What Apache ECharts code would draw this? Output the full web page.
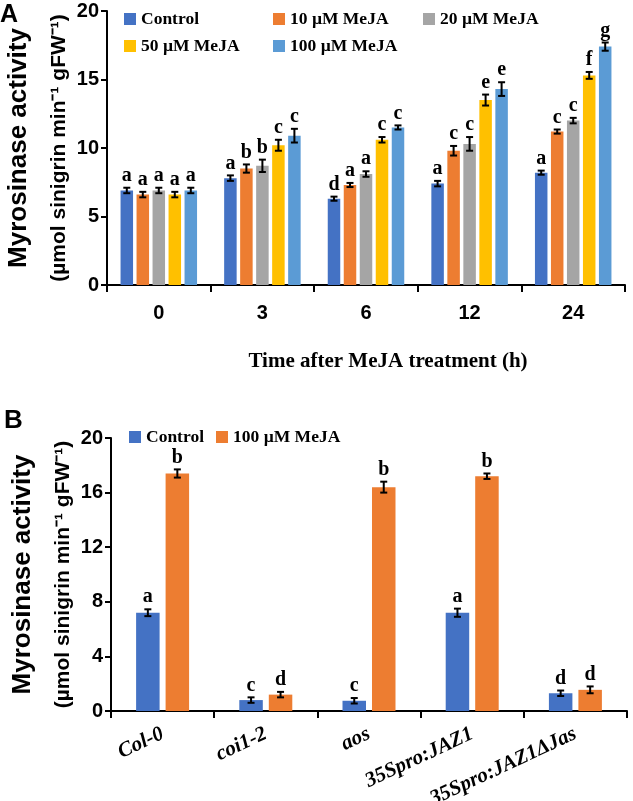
<!DOCTYPE html>
<html><head><meta charset="utf-8">
<script src="https://cdn.jsdelivr.net/npm/echarts@6/dist/echarts.min.js"></script>
<style>html,body{margin:0;padding:0;background:#fff}#c{width:633px;height:801px}</style>
</head><body><div id="c"></div>
<script>
// ---------- Panel A data ----------
const timeCategories = ['0', '3', '6', '12', '24'];
const seriesNamesA = ['Control', '10 µM MeJA', '20 µM MeJA', '50 µM MeJA', '100 µM MeJA'];
const controlA  = [6.9, 7.8, 6.3, 7.4, 8.2];
const meja10A   = [6.6, 8.5, 7.3, 9.8, 11.2];
const meja20A   = [6.9, 8.7, 8.1, 10.3, 12.0];
const meja50A   = [6.6, 10.2, 10.6, 13.5, 15.3];
const meja100A  = [6.9, 10.9, 11.5, 14.3, 17.4];
const controlAErr = [0.2, 0.2, 0.15, 0.2, 0.15];
const meja10AErr  = [0.2, 0.3, 0.15, 0.35, 0.15];
const meja20AErr  = [0.2, 0.45, 0.2, 0.5, 0.2];
const meja50AErr  = [0.2, 0.4, 0.2, 0.4, 0.25];
const meja100AErr = [0.2, 0.5, 0.15, 0.5, 0.3];
const controlALetters = ['a', 'a', 'd', 'a', 'a'];
const meja10ALetters  = ['a', 'b', 'a', 'c', 'c'];
const meja20ALetters  = ['a', 'b', 'a', 'c', 'c'];
const meja50ALetters  = ['a', 'c', 'c', 'e', 'f'];
const meja100ALetters = ['a', 'c', 'c', 'e', 'g'];
const yTicksA = [0, 5, 10, 15, 20];

// ---------- Panel B data ----------
const genotypes = ['Col-0', 'coi1-2', 'aos', '35Spro:JAZ1', '35Spro:JAZ1ΔJas'];
const seriesNamesB = ['Control', '100 µM MeJA'];
const controlB = [7.2, 0.8, 0.75, 7.2, 1.3];
const mejaB    = [17.4, 1.2, 16.4, 17.2, 1.55];
const controlBErr = [0.25, 0.2, 0.2, 0.3, 0.2];
const mejaBErr    = [0.3, 0.2, 0.4, 0.2, 0.25];
const controlBLetters = ['a', 'c', 'c', 'a', 'd'];
const mejaBLetters    = ['b', 'd', 'b', 'b', 'd'];
const yTicksB = [0, 4, 8, 12, 16, 20];

// ---------- styling ----------
const colorsA = ['#4472C4', '#ED7D31', '#A5A5A5', '#FFC000', '#5B9BD5'];
const colorsB = ['#4472C4', '#ED7D31'];
const SANS = '"Liberation Sans", Arial, sans-serif';
const SERIF = '"Liberation Serif", "Times New Roman", serif';
const barWA = 12.5, gapA = 0.28;
const barWB = 23.5, gapB = 0.255;

function errRender(offset, errs, letters) {
  return function (params, api) {
    const i = params.dataIndex;
    const cat = api.value(0), v = api.value(1), e = errs[i];
    const c = api.coord([cat, v]);
    const x = c[0] + offset;
    const yt = api.coord([cat, v + e])[1];
    const yb = api.coord([cat, v - e])[1];
    const cap = 3.5;
    const st = { stroke: '#000', lineWidth: 2 };
    return {
      type: 'group', children: [
        { type: 'line', shape: { x1: x, y1: yt, x2: x, y2: yb }, style: st },
        { type: 'line', shape: { x1: x - cap, y1: yt, x2: x + cap, y2: yt }, style: st },
        { type: 'line', shape: { x1: x - cap, y1: yb, x2: x + cap, y2: yb }, style: st },
        { type: 'text', style: { x: x, y: yt - 2, text: letters[i], textAlign: 'center', textVerticalAlign: 'bottom',
            font: 'bold 20px ' + SERIF, fill: '#000' } }
      ]
    };
  };
}

const valsA = [controlA, meja10A, meja20A, meja50A, meja100A];
const errsA = [controlAErr, meja10AErr, meja20AErr, meja50AErr, meja100AErr];
const lettersA = [controlALetters, meja10ALetters, meja20ALetters, meja50ALetters, meja100ALetters];
const valsB = [controlB, mejaB];
const errsB = [controlBErr, mejaBErr];
const lettersB = [controlBLetters, mejaBLetters];

const series = [];
valsA.forEach((vals, k) => {
  series.push({ type: 'bar', name: seriesNamesA[k], xAxisIndex: 0, yAxisIndex: 0, data: vals,
    barWidth: barWA, barGap: (gapA * 100) + '%', itemStyle: { color: colorsA[k] }, silent: true });
});
valsA.forEach((vals, k) => {
  const off = (k - (valsA.length - 1) / 2) * barWA * (1 + gapA);
  series.push({ type: 'custom', xAxisIndex: 0, yAxisIndex: 0, z: 5, silent: true,
    data: vals.map((v, i) => [i, v]), encode: { x: 0, y: 1 },
    renderItem: errRender(off, errsA[k], lettersA[k]) });
});
valsB.forEach((vals, k) => {
  series.push({ type: 'bar', name: seriesNamesB[k], xAxisIndex: 1, yAxisIndex: 1, data: vals,
    barWidth: barWB, barGap: (gapB * 100) + '%', itemStyle: { color: colorsB[k] }, silent: true });
});
valsB.forEach((vals, k) => {
  const off = (k - (valsB.length - 1) / 2) * barWB * (1 + gapB);
  series.push({ type: 'custom', xAxisIndex: 1, yAxisIndex: 1, z: 5, silent: true,
    data: vals.map((v, i) => [i, v]), encode: { x: 0, y: 1 },
    renderItem: errRender(off, errsB[k], lettersB[k]) });
});

const axisLine = { show: true, lineStyle: { color: '#000', width: 2 } };
const yName = '{a|Myrosinase activity}\n{b|(µmol sinigrin min⁻¹ gFW⁻¹)}';
const yNameStyle = { rich: {
  a: { fontFamily: SANS, fontWeight: 'bold', fontSize: 26, lineHeight: 40, color: '#000' },
  b: { fontFamily: SANS, fontWeight: 'bold', fontSize: 21, lineHeight: 40, color: '#000' } } };

function yAxis(grid, ticks) {
  return { gridIndex: grid, type: 'value', min: ticks[0], max: ticks[ticks.length - 1],
    interval: ticks[1] - ticks[0],
    axisLine: axisLine, axisTick: { show: true, length: 6, lineStyle: { color: '#000', width: 2 } },
    splitLine: { show: false },
    axisLabel: { fontFamily: SANS, fontWeight: 'bold', fontSize: 20, color: '#000', margin: 8 },
    name: yName, nameLocation: 'middle', nameGap: 28, nameRotate: 90, nameMoveOverlap: false,
    nameTextStyle: yNameStyle };
}

const legendBase = { orient: 'horizontal', icon: 'rect', itemWidth: 12, itemHeight: 12, padding: 0,
  selectedMode: false, textStyle: { fontFamily: SERIF, fontWeight: 'bold', fontSize: 17.5, color: '#000' } };
const legA = [[124, 10], [273, 10], [423, 10], [124, 37], [273, 37]];
const legends = seriesNamesA.map((n, k) => Object.assign({}, legendBase,
  { data: [{ name: n, itemStyle: { color: colorsA[k] } }], left: legA[k][0], top: legA[k][1] }));
legends.push(Object.assign({}, legendBase, { left: 129, top: 428, itemGap: 12,
  data: seriesNamesB.map((n, k) => ({ name: n, itemStyle: { color: colorsB[k] } })) }));

const freeBounds = { left: -300, top: -300, right: -300, bottom: -300 };
const option = {
  animation: false,
  backgroundColor: '#fff',
  grid: [
    { left: 107, top: 11, width: 518, height: 274, containLabel: false, outerBounds: freeBounds },
    { left: 111, top: 438, width: 516, height: 273, containLabel: false, outerBounds: freeBounds }
  ],
  legend: legends,
  xAxis: [
    { gridIndex: 0, type: 'category', data: timeCategories, axisLine: axisLine,
      axisTick: { show: true, length: 7, lineStyle: { color: '#000', width: 2 } },
      axisLabel: { fontFamily: SANS, fontWeight: 'bold', fontSize: 20, color: '#000', margin: 18 },
      name: 'Time after MeJA treatment (h)', nameLocation: 'middle', nameGap: 66,
      nameTextStyle: { fontFamily: SERIF, fontWeight: 'bold', fontSize: 21, color: '#000', padding: [0, 0, 0, 44] } },
    { gridIndex: 1, type: 'category', data: genotypes, axisLine: axisLine,
      axisTick: { show: true, length: 7, lineStyle: { color: '#000', width: 2 } },
      axisLabel: { fontFamily: SERIF, fontWeight: 'bold', fontStyle: 'italic', fontSize: 21, color: '#000',
        rotate: 25, margin: 22, interval: 0 } }
  ],
  yAxis: [yAxis(0, yTicksA), yAxis(1, yTicksB)],
  graphic: [
    { type: 'text', left: 0, top: 3, style: { text: 'A', font: 'bold 25px ' + SANS, fill: '#000' } },
    { type: 'text', left: 4, top: 408, style: { text: 'B', font: 'bold 26px ' + SANS, fill: '#000' } }
  ],
  series: series
};
const chart = echarts.init(document.getElementById('c'), null, { renderer: 'canvas' });
chart.setOption(option);
</script>
</body></html>
